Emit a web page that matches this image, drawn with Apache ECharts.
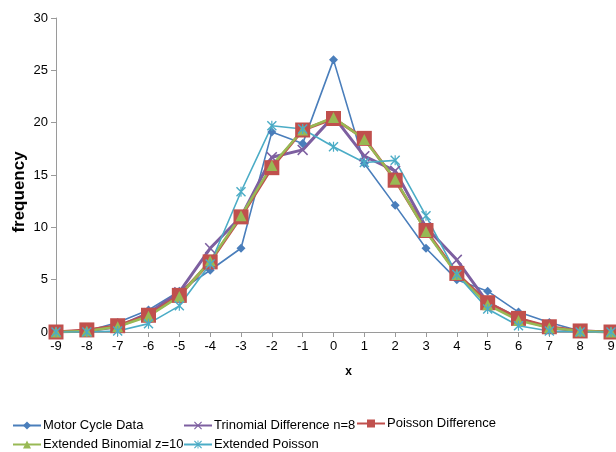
<!DOCTYPE html>
<html><head><meta charset="utf-8">
<script src="https://cdn.jsdelivr.net/npm/echarts@6/dist/echarts.min.js"></script>
<style>html,body{margin:0;padding:0;background:#fff}#c{width:616px;height:452px}</style>
</head><body><div id="c"></div>
<script>
const xValues = [-9,-8,-7,-6,-5,-4,-3,-2,-1,0,1,2,3,4,5,6,7,8,9];
const motorCycle = [0,0.1,0.9,2.1,3.9,5.9,8.0,19.1,18.0,26.0,16.1,12.1,8.0,5.0,3.9,1.9,0.9,0.1,0];
const trinomial = [0,0.1,0.5,1.8,3.8,8.0,11.0,16.7,17.4,20.6,16.8,15.4,10.0,6.9,2.8,1.3,0.4,0.1,0];
const poissonDiff = [0,0.2,0.6,1.6,3.5,6.7,11.0,15.7,19.3,20.4,18.5,14.5,9.7,5.6,2.8,1.3,0.5,0.1,0];
const extBinomial = [0,0.1,0.5,1.5,3.4,6.8,11.1,15.9,19.3,20.5,18.4,14.6,9.6,5.5,2.6,1.1,0.4,0.1,0];
const extPoisson = [0,0,0.1,0.8,2.5,6.5,13.4,19.7,19.4,17.7,16.2,16.4,11.1,5.5,2.2,0.6,0.1,0,0];
const seriesNames = ['Motor Cycle Data','Trinomial Difference n=8','Poisson Difference','Extended Binomial z=10','Extended Poisson'];
const yTicks = [0,5,10,15,20,25,30];

const pair = arr => xValues.map((x,i)=>[x,arr[i]]);
const xSym = 'path://M1,0L5,4L9,0L10,1L6,5L10,9L9,10L5,6L1,10L0,9L4,5L0,1Z';
const starSym = 'path://M1,0L5,4L9,0L10,1L6,5L10,9L9,10L5,6L1,10L0,9L4,5L0,1Z M4.4,0H5.6V10H4.4Z';
const F = 'Liberation Sans';

const chart = echarts.init(document.getElementById('c'));
const legendPos = [[12,419],[183,419],[356,417],[12,438],[183,438]];
chart.setOption({
  animation:false,
  textStyle:{fontFamily:F},
  grid:{left:56,right:5,top:18,bottom:120,containLabel:false,outerBoundsMode:'none'},
  legend: seriesNames.map((n,i)=>({
    data:[n], left:legendPos[i][0], top:legendPos[i][1], itemWidth:28, itemHeight:10, itemGap:2, padding:0,
    textStyle:{fontFamily:F,fontSize:13,color:'#000',padding:[0,0,0,-3]}
  })),
  xAxis:{type:'value',min:-9,max:9,interval:1,
    name:'x',nameLocation:'middle',nameGap:34,nameMoveOverlap:false,
    nameTextStyle:{fontFamily:F,fontSize:12,fontWeight:'bold',color:'#000',padding:[0,0,0,30]},
    axisLine:{onZero:false,lineStyle:{color:'#9a9a9a',width:1}},
    axisTick:{show:true,length:5,lineStyle:{color:'#9a9a9a'}},
    axisLabel:{fontFamily:F,fontSize:13,color:'#000',margin:8},
    splitLine:{show:false}},
  yAxis:{type:'value',min:0,max:30,interval:5,
    name:'frequency',nameLocation:'middle',nameGap:28,nameMoveOverlap:false,
    nameTextStyle:{fontFamily:F,fontSize:17,fontWeight:'bold',color:'#000',padding:[0,34,0,0]},
    axisLine:{show:true,onZero:false,lineStyle:{color:'#9a9a9a',width:1}},
    axisTick:{show:true,length:5,lineStyle:{color:'#9a9a9a'}},
    axisLabel:{fontFamily:F,fontSize:13,color:'#000',margin:8,
      formatter:v=>yTicks.includes(v)?String(v):''},
    splitLine:{show:false}},
  series:[
    {name:seriesNames[0],type:'line',data:pair(motorCycle),symbol:'diamond',symbolSize:9,
      lineStyle:{color:'#4A7EBB',width:1.6},itemStyle:{color:'#4A7EBB'}},
    {name:seriesNames[1],type:'line',data:pair(trinomial),symbol:xSym,symbolSize:11,
      lineStyle:{color:'#7D5FA0',width:3},itemStyle:{color:'#7D5FA0'}},
    {name:seriesNames[2],type:'line',data:pair(poissonDiff),symbol:'rect',symbolSize:15,
      lineStyle:{color:'#C0504D',width:3},itemStyle:{color:'#C0504D'}},
    {name:seriesNames[3],type:'line',data:pair(extBinomial),symbol:'triangle',symbolSize:11,
      lineStyle:{color:'#98B954',width:2.5},itemStyle:{color:'#98B954'}},
    {name:seriesNames[4],type:'line',data:pair(extPoisson),symbol:starSym,symbolSize:10,
      lineStyle:{color:'#4BACC6',width:1.6},itemStyle:{color:'#4BACC6'}}
  ]
});
</script></body></html>
